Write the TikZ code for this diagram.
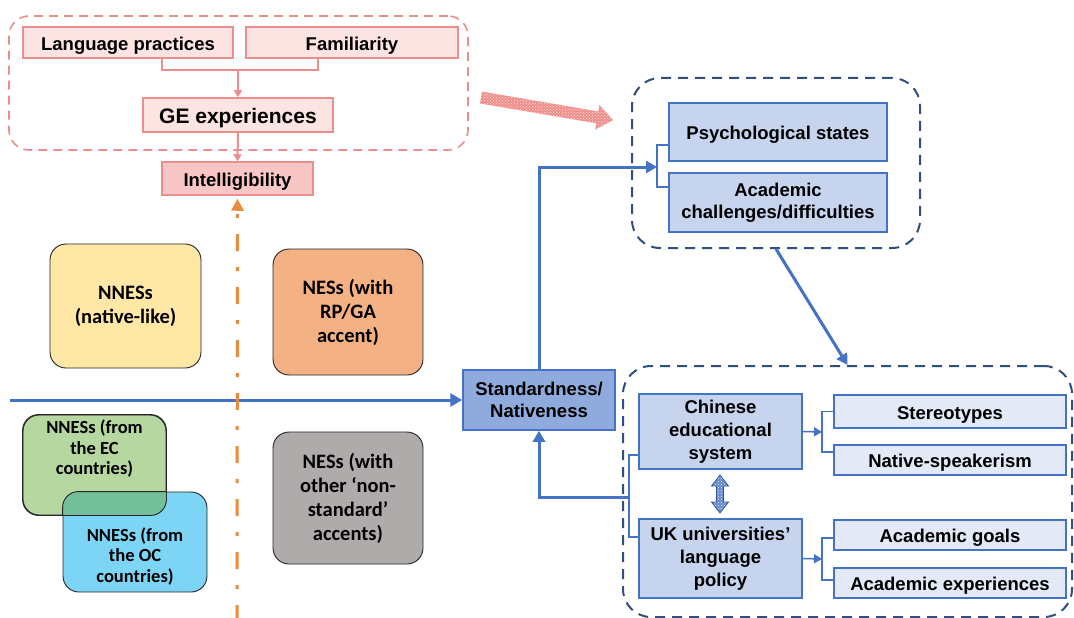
\documentclass[tikz,border=0pt]{standalone}
\usepackage{fontspec}
\setmainfont{Liberation Sans}
\newfontfamily\carlito[Ligatures=TeX]{Carlito}
\usetikzlibrary{arrows.meta,patterns,calc}
\definecolor{pinkline}{HTML}{EA8F8B}
\definecolor{pinkfill}{HTML}{FCE4E3}
\definecolor{pinkdark}{HTML}{F8C6C4}
\definecolor{pinkarrow}{HTML}{EF8F8A}
\definecolor{bl}{HTML}{4472C4}
\definecolor{bfill}{HTML}{C7D4EE}
\definecolor{bfilldark}{HTML}{8FAADC}
\definecolor{bfilllight}{HTML}{E3E9F6}
\definecolor{navy}{HTML}{2F4F80}
\definecolor{orng}{HTML}{E98A3C}
\definecolor{qyellow}{HTML}{FFE8A6}
\definecolor{qorange}{HTML}{F4B183}
\definecolor{qgreen}{HTML}{B6D7A0}
\definecolor{qblue}{HTML}{7DD5F5}
\definecolor{qgray}{HTML}{AFABAB}
\definecolor{qteal}{HTML}{72BF9A}
\tikzset{
  pinkbox/.style={draw=pinkline, fill=pinkfill, line width=1.5pt, inner sep=0pt, text height=16pt, text depth=0pt, font=\fontsize{18.5}{22}\selectfont\bfseries},
  pinkline/.style={draw=pinkline, line width=2pt},
  pinkgroup/.style={draw=pinkline, line width=1.6pt, dash pattern=on 9pt off 6pt, rounded corners=20pt, inner sep=0pt},
  navygroup/.style={draw=navy, line width=2pt, dash pattern=on 10pt off 7pt, rounded corners=28pt, inner sep=0pt},
  bluebox/.style={draw=bl, fill=bfill, line width=1.5pt, inner sep=0pt, align=center, font=\fontsize{18.5}{22}\selectfont\bfseries},
  oneline/.style={text height=15.5pt, text depth=0pt},
  thickblue/.style={draw=bl, line width=3pt},
  thinblue/.style={draw=bl, line width=1.5pt},
  qbox/.style={draw=black!85, line width=0.9pt, rounded corners=16pt, inner sep=0pt, align=center},
  qbig/.style={font=\carlito\bfseries\fontsize{20.5}{24}\selectfont},
  qsmall/.style={font=\carlito\bfseries\fontsize{18.5}{20.5}\selectfont},
  hatchpink/.style={preaction={fill=pinkarrow}, pattern=crosshatch dots, pattern color=white!75!pinkarrow},
  hatchblue/.style={draw=bl!80!black, line width=0.8pt, preaction={fill=bl!85}, pattern=crosshatch dots, pattern color=white},
}
\begin{document}
\begin{tikzpicture}[x=1pt,y=-1pt]
\useasboundingbox (0,0) rectangle (1074,618);

% ---- top-left pink group
\node[pinkgroup, minimum width=459pt, minimum height=134pt] (pgroup) at (238.5,83) {};
\node[pinkbox, minimum width=210pt, minimum height=31pt] (lp) at (128,42.5) {Language practices};
\node[pinkbox, minimum width=212pt, minimum height=31pt] (fam) at (352,42.5) {Familiarity};
\node[pinkbox, minimum width=190pt, minimum height=34pt, text height=17.5pt, font=\fontsize{21}{24}\selectfont\bfseries] (ge) at (238,115) {GE experiences};
\node[pinkbox, fill=pinkdark, minimum width=151pt, minimum height=33pt] (intel) at (237.5,178.5) {Intelligibility};
\coordinate (j1) at (238,70);
\draw[pinkline] ([xshift=34pt]lp.south) |- (j1) -| ([xshift=-34pt]fam.south);
\draw[pinkline, -{Triangle[length=7pt,width=8pt]}] (j1) -- (ge.north);
\draw[pinkline, -{Triangle[length=7pt,width=8pt]}] (ge.south) -- (intel.north);

% ---- hatched pink arrow
\begin{scope}[shift={(481,97.5)}, rotate=-9.7]
  \path[hatchpink] (0,-6) -- (118,-6) -- (118,-12.5) -- (134,0) -- (118,12.5) -- (118,6) -- (0,6) -- cycle;
\end{scope}

% ---- quadrant lines
\coordinate (hstart) at (10,400);
\coordinate (obot) at (237,618);

% ---- quadrant boxes
\node[qbox, qbig, fill=qyellow, minimum width=151pt, minimum height=124pt] (nnl) at (125.5,306) {NNESs\\(native-like)};
\node[qbox, qbig, fill=qorange, minimum width=150pt, minimum height=126pt] (nesrp) at (348,312) {NESs (with\\RP/GA\\accent)};
\node[qbox, qbig, fill=qgray, minimum width=150pt, minimum height=132pt] (neso) at (348,498) {NESs (with\\other ‘non-\\standard’\\accents)};
\node[qbox, qsmall, fill=qblue, minimum width=144pt, minimum height=100pt] (oc) at (135,542)
  {\raisebox{-20pt}[0pt][0pt]{\begin{tabular}{@{}c@{}}NNESs (from\\the OC\\countries)\end{tabular}}};
\node[qbox, qsmall, fill=qgreen, minimum width=143pt, minimum height=100pt] (ec) at (94.5,465)
  {\raisebox{10.5pt}[0pt][0pt]{\begin{tabular}{@{}c@{}}NNESs (from\\the EC\\countries)\end{tabular}}};
\begin{scope}
  \clip[rounded corners=16pt] (ec.south west) rectangle (ec.north east);
  \fill[qteal, rounded corners=16pt] (oc.south west) rectangle (oc.north east);
  \draw[black!85, line width=0.9pt, rounded corners=16pt] (oc.south west) rectangle (oc.north east);
\end{scope}
\draw[black!85, line width=0.9pt, rounded corners=16pt] (ec.south west) rectangle (ec.north east);

% ---- axes
\node[bluebox, fill=bfilldark, minimum width=152pt, minimum height=60pt] (std) at (539,400) {Standardness/\\Nativeness};
\draw[thickblue, -{Triangle[length=12pt,width=13pt]}] (hstart) -- (std.west);
\draw[draw=orng, line width=3pt, dash pattern=on 17pt off 16pt on 4pt off 16pt, dash phase=4pt,
      -{Triangle[length=12pt,width=12pt]}, shorten >=3pt] (obot) -- (intel.south);

% ---- top-right navy group
\node[navygroup, minimum width=288pt, minimum height=170pt] (g1) at (776,163) {};
\node[bluebox, oneline, minimum width=218pt, minimum height=58pt] (psych) at (778,132) {Psychological states};
\node[bluebox, minimum width=218pt, minimum height=59pt] (acad) at (778,202.5) {Academic\\challenges/difficulties};
\coordinate (b1) at (657,167);
\draw[thickblue, -{Triangle[length=11pt,width=12pt]}] (std.north) |- (b1);
\draw[thinblue] ([yshift=-13pt]psych.west) -| (b1) |- ([yshift=15.5pt]acad.west);

% ---- lower-right navy group
\node[navygroup, minimum width=449pt, minimum height=251pt] (g2) at (847.5,491.5) {};
\draw[thickblue, -{Triangle[length=11pt,width=12pt]}] (g1.south) -- (g2.north);
\node[bluebox, minimum width=163pt, minimum height=75pt, font=\fontsize{18.5}{23}\selectfont\bfseries] (chin) at (720.5,431.5) {Chinese\\educational\\system};
\node[bluebox, minimum width=163pt, minimum height=79pt, font=\fontsize{18.5}{23}\selectfont\bfseries] (uk) at (720.5,558.5) {UK universities’\\language\\policy};
\node[bluebox, oneline, fill=bfilllight, minimum width=232pt, minimum height=33pt] (ster) at (950,411.5) {Stereotypes};
\node[bluebox, oneline, fill=bfilllight, minimum width=232pt, minimum height=30pt] (nat) at (950,460) {Native-speakerism};
\node[bluebox, oneline, fill=bfilllight, minimum width=232pt, minimum height=30pt] (goal) at (950,535) {Academic goals};
\node[bluebox, oneline, fill=bfilllight, minimum width=232pt, minimum height=30pt] (expr) at (950,583) {Academic experiences};

\coordinate (b2) at (629,497);
\draw[thickblue, -{Triangle[length=11pt,width=12pt]}] (b2) -| (std.south);
\draw[thinblue] ([yshift=-23.5pt]chin.west) -| (b2) |- ([yshift=21.5pt]uk.west);

\coordinate (b3) at (822,432);
\draw[thinblue, -{Triangle[length=8pt,width=9pt]}] (chin.east) -- (b3);
\draw[thinblue] (ster.west) -| (b3) |- ([yshift=8pt]nat.west);
\coordinate (b4) at (822,559);
\draw[thinblue, -{Triangle[length=8pt,width=9pt]}] (uk.east) -- (b4);
\draw[thinblue] ([yshift=-3pt]goal.west) -| (b4) |- ([yshift=3pt]expr.west);

% ---- hatched double arrow
\path[hatchblue] (720,475) -- (728.5,486) -- (723.5,486) -- (723.5,502) -- (728.5,502) -- (720,513)
  -- (711.5,502) -- (716.5,502) -- (716.5,486) -- (711.5,486) -- cycle;
\end{tikzpicture}
\end{document}
